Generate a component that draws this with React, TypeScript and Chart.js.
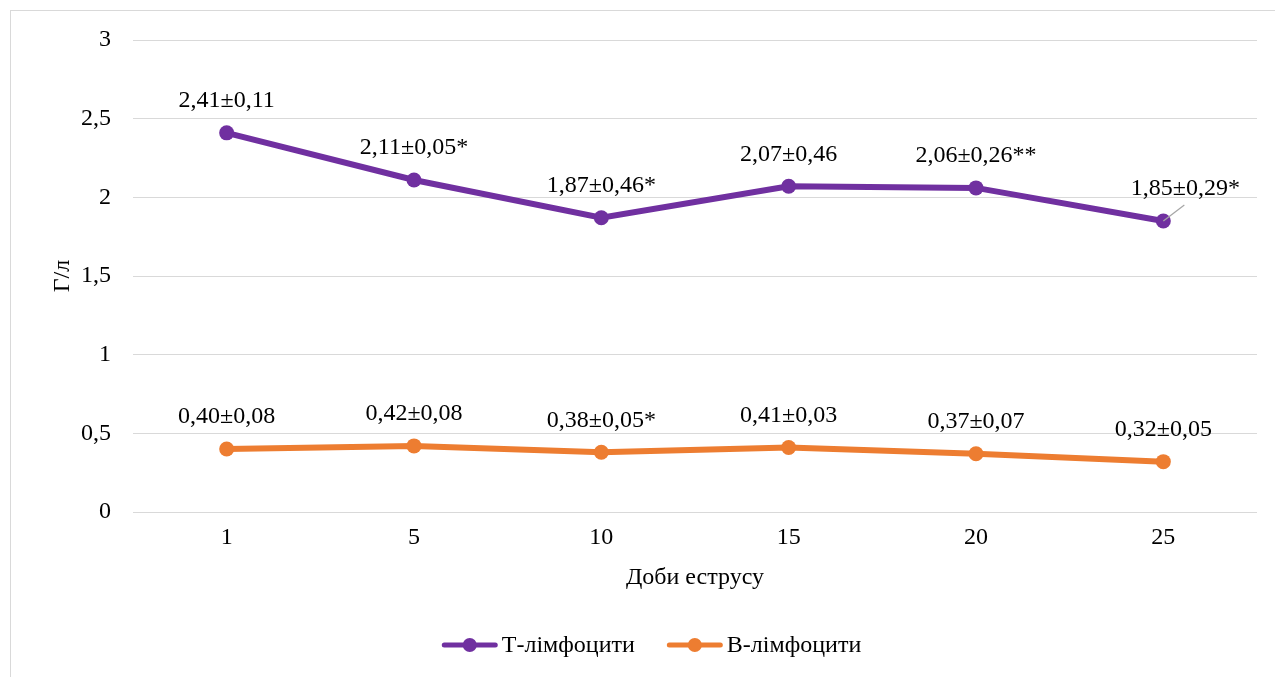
import React, { useEffect, useRef } from "react";
import { Chart, registerables } from "chart.js";

Chart.register(...registerables);

const days = ["1", "5", "10", "15", "20", "25"];
const tCells = [2.41, 2.11, 1.87, 2.07, 2.06, 1.85];
const bCells = [0.4, 0.42, 0.38, 0.41, 0.37, 0.32];
const tLabels = ["2,41±0,11", "2,11±0,05*", "1,87±0,46*", "2,07±0,46", "2,06±0,26**", "1,85±0,29*"];
const bLabels = ["0,40±0,08", "0,42±0,08", "0,38±0,05*", "0,41±0,03", "0,37±0,07", "0,32±0,05"];
const seriesNames = ["Т-лімфоцити", "В-лімфоцити"];
const yTitle = "Г/л";
const xTitle = "Доби еструсу";

const SERIF = "'Liberation Serif', 'Times New Roman', serif";
const PURPLE = "#7030A0";
const ORANGE = "#ED7D31";
const GRID = "#d9d9d9";
const W = 1281;
const H = 672;
const FS = 24;

const labelPlugin = {
  id: "valueLabels",
  afterDatasetsDraw(chart: any) {
    const ctx = chart.ctx;
    const allLabels = [tLabels, bLabels];
    ctx.save();
    ctx.font = `${FS}px ${SERIF}`;
    ctx.fillStyle = "#000";
    ctx.textAlign = "center";
    ctx.textBaseline = "middle";
    chart.data.datasets.forEach((ds: any, di: number) => {
      const meta = chart.getDatasetMeta(di);
      meta.data.forEach((pt: any, i: number) => {
        let dx = 0;
        const dy = -32;
        if (di === 0 && i === 5) {
          dx = 22;
          ctx.save();
          ctx.strokeStyle = "#a6a6a6";
          ctx.lineWidth = 1.2;
          ctx.beginPath();
          ctx.moveTo(pt.x, pt.y);
          ctx.lineTo(pt.x + 21, pt.y - 16);
          ctx.stroke();
          ctx.restore();
        }
        ctx.fillText(allLabels[di][i], pt.x + dx, pt.y + dy);
      });
    });
    ctx.restore();

    // legend
    ctx.save();
    ctx.font = `${FS}px ${SERIF}`;
    ctx.textBaseline = "middle";
    ctx.textAlign = "left";
    const lineLen = 56;
    const gap = 4;
    const between = 32;
    const widths = chart.data.datasets.map((d: any) => ctx.measureText(d.label).width);
    const total = widths.reduce((a: number, w: number) => a + lineLen + gap + w, 0) + between;
    let x = chart.width / 2 - total / 2;
    const y = 634;
    chart.data.datasets.forEach((d: any, di: number) => {
      ctx.strokeStyle = d.borderColor;
      ctx.lineWidth = 5;
      ctx.lineCap = "round";
      ctx.beginPath();
      ctx.moveTo(x + 2.5, y);
      ctx.lineTo(x + lineLen - 2.5, y);
      ctx.stroke();
      ctx.fillStyle = d.borderColor;
      ctx.beginPath();
      ctx.arc(x + lineLen / 2, y, 7, 0, Math.PI * 2);
      ctx.fill();
      ctx.fillStyle = "#000";
      ctx.fillText(d.label, x + lineLen + gap, y + 1);
      x += lineLen + gap + widths[di] + between;
    });
    ctx.restore();
  },
};

export default function App() {
  const ref = useRef<HTMLCanvasElement | null>(null);
  useEffect(() => {
    document.body.style.margin = "0";
    document.body.style.overflow = "hidden";
    const canvas = ref.current!;
    const chart = new Chart(canvas, {
      type: "line",
      data: {
        labels: days,
        datasets: [
          {
            label: seriesNames[0],
            data: tCells,
            borderColor: PURPLE,
            backgroundColor: PURPLE,
            borderWidth: 6,
            pointRadius: 7.5,
            pointHoverRadius: 7.5,
            pointBackgroundColor: PURPLE,
            pointBorderWidth: 0,
            tension: 0,
          },
          {
            label: seriesNames[1],
            data: bCells,
            borderColor: ORANGE,
            backgroundColor: ORANGE,
            borderWidth: 6,
            pointRadius: 7.5,
            pointHoverRadius: 7.5,
            pointBackgroundColor: ORANGE,
            pointBorderWidth: 0,
            tension: 0,
          },
        ],
      },
      options: {
        responsive: false,
        animation: false,
        devicePixelRatio: 1,
        layout: { padding: { top: 29, right: W - 1246, bottom: H - 501 - 100, left: 0 } },
        plugins: {
          legend: { display: false },
          tooltip: { enabled: false },
        },
        scales: {
          x: {
            type: "category",
            offset: true,
            grid: { display: false, drawTicks: false },
            border: { display: false },
            ticks: { color: "#000", font: { family: SERIF, size: FS }, padding: 11, maxRotation: 0 },
            title: {
              display: true,
              text: xTitle,
              color: "#000",
              font: { family: SERIF, size: FS },
              padding: { top: 0, bottom: 20 },
            },
            afterFit(scale: any) {
              scale.height = 100;
              scale.paddingLeft = 0;
              scale.paddingRight = 0;
            },
          },
          y: {
            min: 0,
            max: 3,
            grid: { color: GRID, lineWidth: 1, drawTicks: false },
            border: { display: false },
            ticks: {
              stepSize: 0.5,
              color: "#000",
              padding: 22,
              font: { family: SERIF, size: FS },
              callback: (v: any) => String(v).replace(".", ","),
            },
            title: {
              display: true,
              text: yTitle,
              color: "#000",
              font: { family: SERIF, size: FS },
              padding: { top: 37, bottom: 0 },
            },
            afterFit(scale: any) {
              scale.width = 122;
              scale.paddingTop = 0;
              scale.paddingBottom = 0;
            },
          },
        },
      },
      plugins: [labelPlugin],
    } as any);
    return () => chart.destroy();
  }, []);
  return (
    <div
      style={{
        position: "absolute",
        left: 10,
        top: 10,
        width: W,
        height: H,
        border: `1px solid ${GRID}`,
        background: "#fff",
      }}
    >
      <canvas ref={ref} width={W} height={H} style={{ display: "block", width: W, height: H }} />
    </div>
  );
}
